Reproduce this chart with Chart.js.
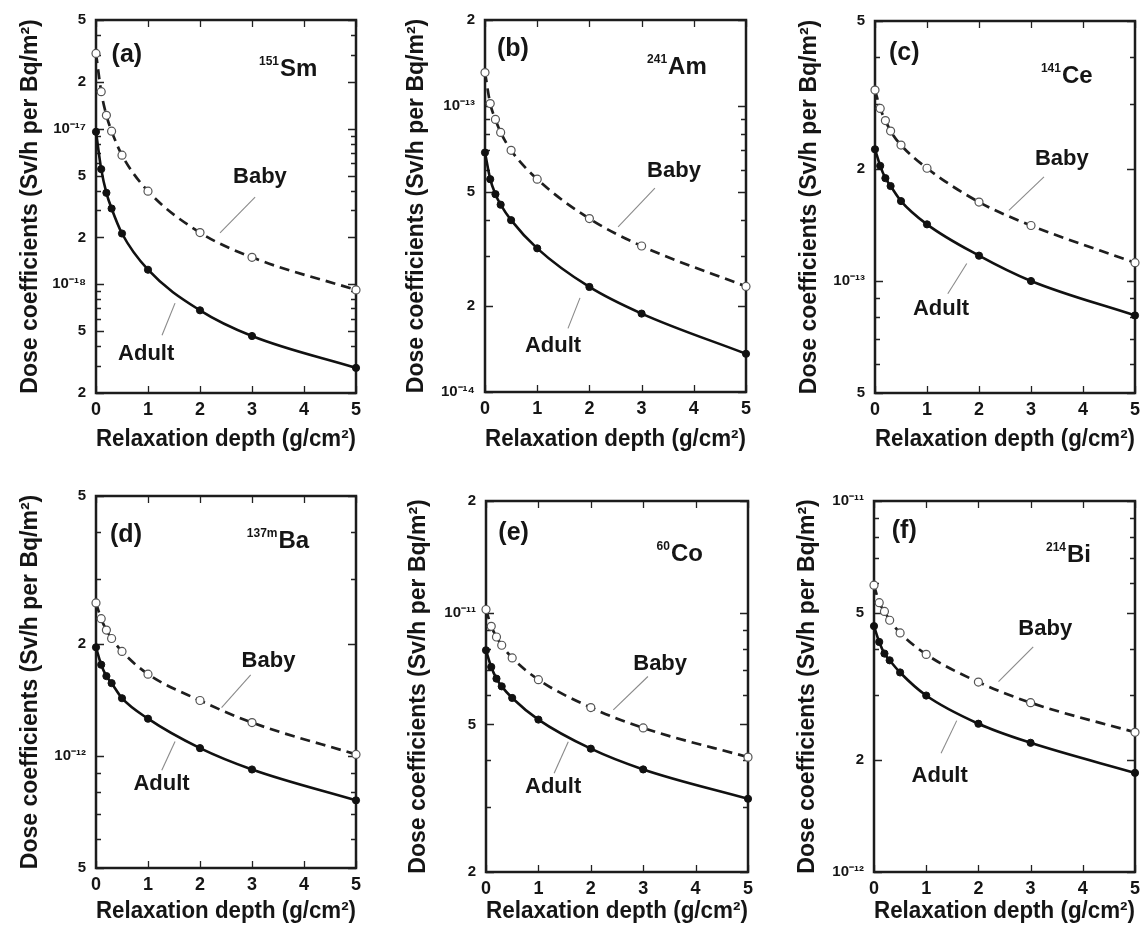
<!DOCTYPE html>
<html>
<head>
<meta charset="utf-8">
<script src="https://cdn.jsdelivr.net/npm/chart.js@4.4.1/dist/chart.umd.min.js"></script>
<style>
html, body { margin: 0; padding: 0; background: #ffffff; }
#wrap { position: relative; width: 1148px; height: 935px; overflow: hidden; background: #fff; }
#wrap canvas { position: absolute; }
</style>
</head>
<body>
<div id="wrap"></div>
<script>
// ---------- data ----------
const depth = [0, 0.1, 0.2, 0.3, 0.5, 1, 2, 3, 5];

const babySm151  = [3.05e-17, 1.73e-17, 1.22e-17, 9.65e-18, 6.76e-18, 3.97e-18, 2.15e-18, 1.49e-18, 9.2e-19];
const adultSm151 = [9.56e-18, 5.5e-18, 3.87e-18, 3.07e-18, 2.12e-18, 1.24e-18, 6.8e-19, 4.65e-19, 2.9e-19];

const babyAm241  = [1.31e-13, 1.02e-13, 8.98e-14, 8.09e-14, 7.0e-14, 5.55e-14, 4.04e-14, 3.24e-14, 2.34e-14];
const adultAm241 = [6.88e-14, 5.55e-14, 4.92e-14, 4.52e-14, 3.99e-14, 3.18e-14, 2.33e-14, 1.88e-14, 1.36e-14];

const babyCe141  = [3.26e-13, 2.91e-13, 2.70e-13, 2.53e-13, 2.32e-13, 2.01e-13, 1.63e-13, 1.41e-13, 1.12e-13];
const adultCe141 = [2.26e-13, 2.04e-13, 1.89e-13, 1.80e-13, 1.64e-13, 1.42e-13, 1.17e-13, 1.00e-13, 8.08e-14];

const babyBa137m  = [2.58e-12, 2.34e-12, 2.18e-12, 2.07e-12, 1.91e-12, 1.66e-12, 1.41e-12, 1.23e-12, 1.01e-12];
const adultBa137m = [1.96e-12, 1.76e-12, 1.64e-12, 1.57e-12, 1.43e-12, 1.26e-12, 1.05e-12, 9.2e-13, 7.6e-13];

const babyCo60  = [1.02e-11, 9.19e-12, 8.6e-12, 8.17e-12, 7.55e-12, 6.6e-12, 5.55e-12, 4.89e-12, 4.08e-12];
const adultCo60 = [7.92e-12, 7.14e-12, 6.64e-12, 6.33e-12, 5.89e-12, 5.15e-12, 4.3e-12, 3.78e-12, 3.15e-12];

const babyBi214  = [5.93e-12, 5.32e-12, 5.04e-12, 4.77e-12, 4.41e-12, 3.86e-12, 3.25e-12, 2.86e-12, 2.38e-12];
const adultBi214 = [4.6e-12, 4.17e-12, 3.88e-12, 3.72e-12, 3.45e-12, 2.99e-12, 2.51e-12, 2.23e-12, 1.85e-12];

// y-axis ranges and tick labels
const yRangeA = [2e-19, 5e-17];
const yTicksA = [2e-19, 5e-19, 1e-18, 2e-18, 5e-18, 1e-17, 2e-17, 5e-17];
const yLabelsA = ['2', '5', '10\u207B\u00B9\u2078', '2', '5', '10\u207B\u00B9\u2077', '2', '5'];

const yRangeB = [1e-14, 2e-13];
const yTicksB = [1e-14, 2e-14, 5e-14, 1e-13, 2e-13];
const yLabelsB = ['10\u207B\u00B9\u2074', '2', '5', '10\u207B\u00B9\u00B3', '2'];

const yRangeC = [5e-14, 5e-13];
const yTicksC = [5e-14, 1e-13, 2e-13, 5e-13];
const yLabelsC = ['5', '10\u207B\u00B9\u00B3', '2', '5'];

const yRangeD = [5e-13, 5e-12];
const yTicksD = [5e-13, 1e-12, 2e-12, 5e-12];
const yLabelsD = ['5', '10\u207B\u00B9\u00B2', '2', '5'];

const yRangeE = [2e-12, 2e-11];
const yTicksE = [2e-12, 5e-12, 1e-11, 2e-11];
const yLabelsE = ['2', '5', '10\u207B\u00B9\u00B9', '2'];

const yRangeF = [1e-12, 1e-11];
const yTicksF = [1e-12, 2e-12, 5e-12, 1e-11];
const yLabelsF = ['10\u207B\u00B9\u00B2', '2', '5', '10\u207B\u00B9\u00B9'];

const xTickValues = [0, 1, 2, 3, 4, 5];
const panelLetters = ['(a)', '(b)', '(c)', '(d)', '(e)', '(f)'];
const isotopeMass = ['151', '241', '141', '137m', '60', '214'];
const isotopeElement = ['Sm', 'Am', 'Ce', 'Ba', 'Co', 'Bi'];
const seriesNames = ['Baby', 'Adult'];
const xTitle = 'Relaxation depth (g/cm\u00B2)';
const yTitle = 'Dose coefficients (Sv/h per Bq/m\u00B2)';

// ---------- layout (positions / sizes, kept apart from data) ----------
const layouts = [
  { box: [0, 0, 383, 467],   yW: 96,  top: 20, right: 27, xH: 60, bottom: 14, yTitlePad: 17 },
  { box: [383, 0, 383, 467], yW: 102, top: 20, right: 20, xH: 61, bottom: 14, yTitlePad: 20 },
  { box: [766, 0, 382, 467], yW: 109, top: 21, right: 13, xH: 60, bottom: 14, yTitlePad: 30 },
  { box: [0, 467, 383, 468], yW: 96,  top: 29, right: 27, xH: 57, bottom: 10, yTitlePad: 17 },
  { box: [383, 467, 383, 468], yW: 103, top: 34, right: 18, xH: 53, bottom: 10, yTitlePad: 22 },
  { box: [766, 467, 382, 468], yW: 108, top: 34, right: 13, xH: 53, bottom: 10, yTitlePad: 28 }
];
// annotation anchors as fractions of the plot area
const notes = [
  { letter: [0.060, 0.112], iso: [0.627, 0.150], baby: [0.527, 0.437], babyLine: [0.612, 0.475, 0.477, 0.571], adult: [0.085, 0.912], adultLine: [0.304, 0.759, 0.254, 0.845] },
  { letter: [0.046, 0.097], iso: [0.621, 0.145], baby: [0.621, 0.421], babyLine: [0.651, 0.452, 0.510, 0.556], adult: [0.153, 0.892], adultLine: [0.364, 0.747, 0.318, 0.829] },
  { letter: [0.054, 0.106], iso: [0.638, 0.167], baby: [0.615, 0.388], babyLine: [0.650, 0.419, 0.515, 0.509], adult: [0.146, 0.791], adultLine: [0.353, 0.652, 0.280, 0.733] },
  { letter: [0.054, 0.123], iso: [0.580, 0.141], baby: [0.560, 0.459], babyLine: [0.595, 0.481, 0.483, 0.569], adult: [0.144, 0.790], adultLine: [0.304, 0.660, 0.253, 0.737] },
  { letter: [0.047, 0.105], iso: [0.651, 0.161], baby: [0.562, 0.456], babyLine: [0.618, 0.473, 0.486, 0.563], adult: [0.149, 0.788], adultLine: [0.314, 0.649, 0.260, 0.734] },
  { letter: [0.068, 0.101], iso: [0.659, 0.164], baby: [0.553, 0.361], babyLine: [0.610, 0.393, 0.477, 0.487], adult: [0.144, 0.757], adultLine: [0.317, 0.592, 0.257, 0.680] }
];

const babySeries = [babySm151, babyAm241, babyCe141, babyBa137m, babyCo60, babyBi214];
const adultSeries = [adultSm151, adultAm241, adultCe141, adultBa137m, adultCo60, adultBi214];
const yRanges = [yRangeA, yRangeB, yRangeC, yRangeD, yRangeE, yRangeF];
const yTicks = [yTicksA, yTicksB, yTicksC, yTicksD, yTicksE, yTicksF];
const yLabels = [yLabelsA, yLabelsB, yLabelsC, yLabelsD, yLabelsE, yLabelsF];

const FONT = '"Liberation Sans", Arial, Helvetica, sans-serif';
const INK = '#151515';

// frame + inward ticks, drawn under the data
const framePlugin = {
  id: 'frame',
  beforeDatasetsDraw(chart, args, opts) {
    const ctx = chart.ctx, ca = chart.chartArea;
    const xs = chart.scales.x, ys = chart.scales.y;
    ctx.save();
    ctx.strokeStyle = '#222';
    ctx.lineWidth = 1.3;
    ctx.beginPath();
    const lo = Math.floor(Math.log10(ys.min)), hi = Math.ceil(Math.log10(ys.max));
    const majors = opts.majors;
    for (let e = lo; e <= hi; e++) {
      for (let k = 1; k <= 9; k++) {
        const v = k * Math.pow(10, e);
        if (v < ys.min * 0.999 || v > ys.max * 1.001) continue;
        const py = Math.round(ys.getPixelForValue(v)) + 0.5;
        const isMajor = majors.some(m => Math.abs(m - v) / v < 1e-6);
        const len = isMajor ? 8 : 5;
        ctx.moveTo(ca.left, py); ctx.lineTo(ca.left + len, py);
        ctx.moveTo(ca.right, py); ctx.lineTo(ca.right - len, py);
      }
    }
    for (const v of opts.xticks) {
      const px = Math.round(xs.getPixelForValue(v)) + 0.5;
      ctx.moveTo(px, ca.bottom); ctx.lineTo(px, ca.bottom - 7);
      ctx.moveTo(px, ca.top); ctx.lineTo(px, ca.top + 7);
    }
    ctx.stroke();
    ctx.lineWidth = 2.5;
    ctx.strokeStyle = '#1c1c1c';
    ctx.strokeRect(ca.left, ca.top, ca.right - ca.left, ca.bottom - ca.top);
    ctx.restore();
  }
};

// text annotations: panel letter, isotope, series labels with leader lines
const notePlugin = {
  id: 'notes',
  afterDatasetsDraw(chart, args, o) {
    const ctx = chart.ctx, ca = chart.chartArea;
    const w = ca.right - ca.left, h = ca.bottom - ca.top;
    const P = (fx, fy) => [ca.left + fx * w, ca.top + fy * h];
    const n = o.note;
    ctx.save();
    ctx.fillStyle = INK;
    ctx.textAlign = 'left';
    ctx.textBaseline = 'alphabetic';
    ctx.strokeStyle = '#8a8a8a';
    ctx.lineWidth = 1.1;
    for (const L of [n.babyLine, n.adultLine]) {
      const a = P(L[0], L[1]), b = P(L[2], L[3]);
      ctx.beginPath(); ctx.moveTo(a[0], a[1]); ctx.lineTo(b[0], b[1]); ctx.stroke();
    }
    let p = P(n.letter[0], n.letter[1]);
    ctx.font = 'bold 25px ' + FONT;
    ctx.fillText(o.letter, p[0], p[1]);
    p = P(n.iso[0], n.iso[1]);
    ctx.font = 'bold 12px ' + FONT;
    ctx.fillText(o.mass, p[0], p[1] - 11);
    const mw = ctx.measureText(o.mass).width;
    ctx.font = 'bold 24px ' + FONT;
    ctx.fillText(o.element, p[0] + mw + 1, p[1]);
    ctx.font = 'bold 22px ' + FONT;
    p = P(n.baby[0], n.baby[1]);
    ctx.fillText(o.names[0], p[0], p[1]);
    p = P(n.adult[0], n.adult[1]);
    ctx.fillText(o.names[1], p[0], p[1]);
    ctx.restore();
  }
};

const wrap = document.getElementById('wrap');

for (let i = 0; i < 6; i++) {
  const L = layouts[i];
  const cv = document.createElement('canvas');
  cv.width = L.box[2]; cv.height = L.box[3];
  cv.style.left = L.box[0] + 'px'; cv.style.top = L.box[1] + 'px';
  cv.style.width = L.box[2] + 'px'; cv.style.height = L.box[3] + 'px';
  wrap.appendChild(cv);

  const babyPts = depth.map((d, k) => ({ x: d, y: babySeries[i][k] }));
  const adultPts = depth.map((d, k) => ({ x: d, y: adultSeries[i][k] }));
  const tickVals = yTicks[i], tickLabs = yLabels[i];

  new Chart(cv.getContext('2d'), {
    type: 'line',
    data: {
      datasets: [
        {
          label: seriesNames[0], data: babyPts,
          borderColor: '#1e1e1e', borderWidth: 2.7, borderDash: [10, 6],
          cubicInterpolationMode: 'monotone',
          pointRadius: 4, pointBorderWidth: 1.2, pointBackgroundColor: '#ffffff', pointBorderColor: '#555',
          clip: 12
        },
        {
          label: seriesNames[1], data: adultPts,
          borderColor: '#111', borderWidth: 2.6,
          cubicInterpolationMode: 'monotone',
          pointRadius: 3.6, pointBorderWidth: 1, pointBackgroundColor: '#111', pointBorderColor: '#111',
          clip: 12
        }
      ]
    },
    options: {
      responsive: false,
      animation: false,
      devicePixelRatio: 1,
      layout: { padding: { left: 0, top: L.top, right: L.right, bottom: L.bottom } },
      plugins: {
        legend: { display: false },
        tooltip: { enabled: false },
        frame: { majors: tickVals, xticks: xTickValues },
        notes: { note: notes[i], letter: panelLetters[i], mass: isotopeMass[i], element: isotopeElement[i], names: seriesNames }
      },
      scales: {
        x: {
          type: 'linear', min: 0, max: 5,
          grid: { display: false, drawTicks: false },
          border: { display: false },
          afterFit: (s) => { s.height = L.xH; },
          ticks: { stepSize: 1, padding: 6, color: INK, font: { family: FONT, size: 18, weight: 'bold' }, maxRotation: 0, autoSkip: false },
          title: { display: true, text: xTitle, color: INK, padding: { top: 0, bottom: 0 }, font: { family: FONT, size: 23, weight: 'bold' } }
        },
        y: {
          type: 'logarithmic', min: yRanges[i][0], max: yRanges[i][1],
          grid: { display: false, drawTicks: false },
          border: { display: false },
          afterFit: (s) => { s.width = L.yW; },
          afterBuildTicks: (s) => { s.ticks = tickVals.map(v => ({ value: v })); },
          ticks: {
            padding: 10, color: INK, autoSkip: false,
            font: { family: FONT, size: 15, weight: 'bold' },
            callback: (v) => {
              const idx = tickVals.findIndex(t => Math.abs(t - v) / t < 1e-6);
              return idx >= 0 ? tickLabs[idx] : '';
            }
          },
          title: { display: true, text: yTitle, color: INK, padding: { top: L.yTitlePad, bottom: 0 }, font: { family: FONT, size: 23, weight: 'bold' } }
        }
      }
    },
    plugins: [framePlugin, notePlugin]
  });
}
</script>
</body>
</html>
